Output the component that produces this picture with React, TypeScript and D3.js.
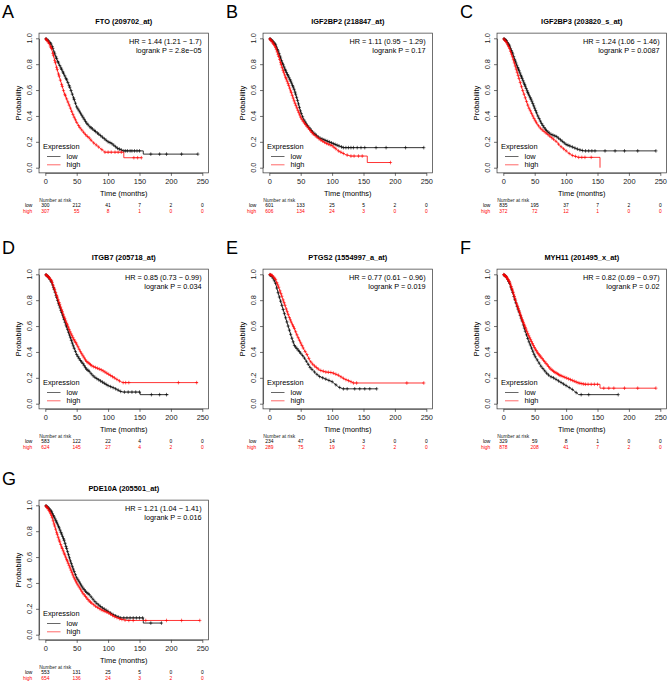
import React, { useEffect, useRef } from "react";
import * as d3 from "d3";

type Pt = [number, number];

const timeTicks = [0, 50, 100, 150, 200, 250];
const probTicks = [0, 0.2, 0.4, 0.6, 0.8, 1.0];
const riskTimes = [0, 50, 100, 150, 200, 250];

const letters = ["A", "B", "C", "D", "E", "F", "G"];
const titles = [
  "FTO (209702_at)",
  "IGF2BP2 (218847_at)",
  "IGF2BP3 (203820_s_at)",
  "ITGB7 (205718_at)",
  "PTGS2 (1554997_a_at)",
  "MYH11 (201495_x_at)",
  "PDE10A (205501_at)",
];
const hrTexts = [
  "HR = 1.44 (1.21 \u2212 1.7)",
  "HR = 1.11 (0.95 \u2212 1.29)",
  "HR = 1.24 (1.06 \u2212 1.46)",
  "HR = 0.85 (0.73 \u2212 0.99)",
  "HR = 0.77 (0.61 \u2212 0.96)",
  "HR = 0.82 (0.69 \u2212 0.97)",
  "HR = 1.21 (1.04 \u2212 1.41)",
];
const pTexts = [
  "logrank P = 2.8e\u221205",
  "logrank P = 0.17",
  "logrank P = 0.0087",
  "logrank P = 0.034",
  "logrank P = 0.019",
  "logrank P = 0.02",
  "logrank P = 0.016",
];

// survival curves, [months, probability]
const ftoLow: Pt[] = [[0,1],[5,0.98],[10,0.95],[15,0.88],[20,0.82],[25,0.77],[30,0.72],[35,0.67],[40,0.61],[45,0.54],[50,0.47],[55,0.43],[60,0.39],[65,0.35],[70,0.32],[75,0.30],[80,0.28],[85,0.26],[90,0.24],[95,0.22],[100,0.20],[105,0.19],[110,0.17],[115,0.15],[120,0.14],[124,0.13],[156,0.13],[156,0.105],[243,0.105]];
const ftoHigh: Pt[] = [[0,1],[5,0.97],[10,0.92],[15,0.83],[20,0.74],[25,0.66],[30,0.58],[35,0.52],[40,0.46],[45,0.40],[50,0.35],[55,0.31],[60,0.28],[65,0.25],[70,0.23],[75,0.20],[80,0.18],[85,0.16],[90,0.14],[95,0.12],[125,0.12],[125,0.077],[153,0.077]];
const igf2bp2Low: Pt[] = [[0,1],[5,0.98],[10,0.95],[15,0.89],[20,0.82],[25,0.76],[30,0.71],[35,0.66],[40,0.60],[45,0.52],[50,0.43],[55,0.37],[60,0.33],[65,0.30],[70,0.27],[75,0.25],[80,0.23],[90,0.21],[100,0.19],[110,0.17],[118,0.155],[246,0.155]];
const igf2bp2High: Pt[] = [[0,1],[5,0.97],[10,0.93],[15,0.86],[20,0.78],[25,0.71],[30,0.65],[35,0.58],[40,0.51],[45,0.45],[50,0.39],[55,0.35],[60,0.32],[65,0.29],[70,0.26],[75,0.24],[80,0.22],[90,0.19],[100,0.17],[110,0.13],[122,0.10],[130,0.09],[156,0.09],[156,0.04],[193,0.04]];
const igf2bp3Low: Pt[] = [[0,1],[5,0.98],[10,0.94],[15,0.88],[20,0.81],[25,0.75],[30,0.69],[35,0.63],[40,0.57],[45,0.52],[50,0.46],[55,0.40],[60,0.35],[65,0.31],[70,0.28],[75,0.26],[80,0.25],[85,0.24],[90,0.22],[95,0.20],[100,0.18],[110,0.16],[120,0.14],[128,0.13],[243,0.13]];
const igf2bp3High: Pt[] = [[0,1],[5,0.97],[10,0.92],[15,0.85],[20,0.77],[25,0.69],[30,0.61],[35,0.54],[40,0.47],[45,0.42],[50,0.37],[55,0.33],[60,0.30],[65,0.28],[70,0.26],[75,0.24],[80,0.22],[85,0.20],[90,0.17],[95,0.15],[100,0.13],[105,0.11],[110,0.095],[120,0.08],[154,0.08],[154,0]];
const itgb7Low: Pt[] = [[0,1],[5,0.98],[10,0.94],[15,0.87],[20,0.79],[25,0.72],[30,0.65],[35,0.58],[40,0.51],[45,0.44],[50,0.38],[55,0.34],[60,0.31],[65,0.27],[70,0.25],[75,0.22],[80,0.20],[90,0.17],[100,0.14],[110,0.12],[120,0.095],[124,0.09],[151,0.09],[151,0.07],[196,0.07]];
const itgb7High: Pt[] = [[0,1],[5,0.98],[10,0.95],[15,0.88],[20,0.81],[25,0.74],[30,0.67],[35,0.61],[40,0.55],[45,0.50],[50,0.46],[55,0.41],[60,0.37],[65,0.33],[70,0.31],[75,0.29],[80,0.28],[90,0.26],[100,0.23],[110,0.20],[120,0.17],[124,0.163],[243,0.163]];
const ptgs2Low: Pt[] = [[0,1],[5,0.98],[10,0.93],[15,0.84],[20,0.76],[25,0.68],[30,0.60],[35,0.52],[40,0.45],[45,0.42],[50,0.39],[55,0.36],[60,0.32],[65,0.28],[70,0.255],[75,0.23],[80,0.21],[90,0.19],[100,0.17],[110,0.13],[117,0.115],[171,0.115]];
const ptgs2High: Pt[] = [[0,1],[5,0.99],[10,0.96],[15,0.90],[20,0.83],[25,0.76],[30,0.69],[35,0.63],[40,0.58],[45,0.52],[50,0.47],[55,0.42],[60,0.38],[65,0.33],[70,0.30],[75,0.28],[80,0.26],[90,0.245],[100,0.24],[110,0.22],[120,0.19],[130,0.17],[134,0.16],[246,0.16]];
const myh11Low: Pt[] = [[0,1],[5,0.98],[10,0.93],[15,0.86],[20,0.78],[25,0.71],[30,0.64],[35,0.56],[40,0.49],[45,0.43],[50,0.37],[55,0.33],[60,0.29],[65,0.26],[70,0.23],[75,0.21],[80,0.20],[90,0.17],[100,0.14],[110,0.11],[120,0.07],[183,0.07]];
const myh11High: Pt[] = [[0,1],[5,0.98],[10,0.94],[15,0.87],[20,0.79],[25,0.72],[30,0.65],[35,0.59],[40,0.53],[45,0.48],[50,0.43],[55,0.39],[60,0.36],[65,0.33],[70,0.30],[75,0.27],[80,0.25],[90,0.22],[100,0.20],[110,0.18],[120,0.16],[130,0.15],[154,0.15],[154,0.12],[243,0.12]];
const pde10aLow: Pt[] = [[0,1],[5,0.98],[10,0.95],[15,0.90],[20,0.85],[25,0.79],[30,0.73],[35,0.65],[40,0.57],[45,0.50],[50,0.44],[55,0.40],[60,0.36],[65,0.33],[70,0.31],[75,0.28],[80,0.25],[90,0.21],[100,0.18],[110,0.15],[120,0.13],[156,0.13],[156,0.09],[185,0.09]];
const pde10aHigh: Pt[] = [[0,1],[5,0.97],[10,0.92],[15,0.84],[20,0.76],[25,0.69],[30,0.63],[35,0.57],[40,0.51],[45,0.45],[50,0.40],[55,0.36],[60,0.32],[65,0.29],[70,0.26],[75,0.24],[80,0.22],[90,0.19],[100,0.17],[110,0.14],[120,0.12],[130,0.11],[246,0.11]];

// censoring times (months)
const ftoLowCens = [1,2,4,5,7,8,9,11,12,14,15,17,18,20,21,23,25,26,28,29,31,33,34,36,38,39,41,43,45,46,48,50,52,54,56,58,60,62,64,66,68,71,73,75,78,80,83,85,88,91,94,97,100,103,106,109,112,115,118,121,125,128,131,135,138,142,146,150,168,182,193,217,243];
const ftoHighCens = [1,2,3,5,6,8,9,10,12,13,15,16,18,19,21,22,24,26,27,29,31,32,34,36,38,40,42,44,46,48,50,53,55,58,61,64,67,70,73,77,81,85,90,95,100,105,111,116,121,141,147,153];
const igf2bp2LowCens = [1,2,3.5,5,6,7.5,9,10,11.5,13,14,15.5,17,18,19.5,21,22,23.5,25,26,27.5,29,30,31.5,33,34,35.5,37,38,39.5,41,42,43.5,45,46.5,48,49.5,51,53,55,57,59,61,63,65,67,69,71,73,75,78,81,84,87,90,93,96,99,102,105,108,111,115,118,122,126,130,134,140,146,152,170,186,217,246];
const igf2bp2HighCens = [1,2,3,4.5,6,7,8.5,10,11,12.5,14,15,16.5,18,19,20.5,22,23,24.5,26,27,28.5,30,31,32.5,34,35,36.5,38,39.5,41,42.5,44,45.5,47,48.5,50,52,54,56,58,60,62,64,66,68,70,73,76,79,82,85,88,91,94,97,100,103,106,110,114,118,124,130,135,142,148,193];
const igf2bp3LowCens = [1,2,3,4,5,6.5,8,9,10,11.5,13,14,15,16.5,18,19,20,21.5,23,24,25,26.5,28,29,30,31.5,33,34,35,36.5,38,39,40,41.5,43,44,45.5,47,48.5,50,51.5,53,55,57,59,61,63,65,67,69,71,73,76,79,82,85,88,91,94,97,100,103,106,110,114,118,122,126,131,136,141,146,162,178,193,214,243];
const igf2bp3HighCens = [1,2.5,4,5.5,7,8.5,10,11.5,13,14.5,16,17.5,19,20.5,22,23.5,25,27,29,31,33,35,37,39,41,43,45,47,49,51,53,56,59,62,65,68,71,74,77,80,84,88,92,96,100,105,110,115,120,125,130,140];
const itgb7LowCens = [1,2,3.5,5,6,7.5,9,10,11.5,13,14,15.5,17,18,19.5,21,22,23.5,25,26,27.5,29,30,31.5,33,34,35.5,37,38.5,40,41.5,43,44.5,46,48,50,52,54,56,58,60,62,64,66,68,70,73,76,79,82,85,88,91,94,97,100,104,108,112,116,120,126,132,138,144,150,169,182,193];
const itgb7HighCens = [1,2,3,4.5,6,7,8.5,10,11,12.5,14,15,16.5,18,19,20.5,22,23,24.5,26,27,28.5,30,31,32.5,34,35,36.5,38,39.5,41,42.5,44,45.5,47,48.5,50,52,54,56,58,60,62,64,66,68,70,72,74,77,80,83,86,89,92,95,98,101,104,107,110,114,118,124,128,133,212,241];
const ptgs2LowCens = [1,2,4,6,8,10,12,14,16,18,20,22,24,26,28,30,32,34,36,38,40,42,44,46,48,50,53,56,59,62,65,68,72,76,80,85,90,95,100,106,112,118,124,136,144,152,160,171];
const ptgs2HighCens = [1,2,3.5,5,7,8.5,10,12,13.5,15,17,18.5,20,22,23.5,25,27,28.5,30,32,33.5,35,37,38.5,40,42,44,46,48,50,52,54,57,60,63,66,69,72,75,78,82,86,90,94,98,102,106,110,114,118,122,126,130,134,139,219,246];
const myh11LowCens = [1,2,3.5,5,7,8.5,10,12,13.5,15,17,18.5,20,22,23.5,25,27,28.5,30,32,33.5,35,37,39,41,43,45,47,49,51,54,57,60,63,66,69,72,76,80,84,88,92,96,100,105,110,116,124,136,183];
const myh11HighCens = [0.5,1.5,2.5,3.5,4.5,5.5,6.5,7.5,8.5,9.5,10.5,11.5,12.5,13.5,14.5,15.5,16.5,17.5,18.5,19.5,21,22,23,24,25,26,27,28,29,30,31,32,33,34,35,36,37.5,39,40.5,42,43.5,45,46.5,48,49.5,51,52.5,54,55.5,57,58.5,60,62,64,66,68,70,72,74,76,78,80,82,84,86,88,90,92,95,98,101,104,107,110,113,116,119,122,125,128,131,135,140,145,150,160,168,176,193,214,243];
const pde10aLowCens = [1,2,3.5,5,6,7.5,9,10,11.5,13,14,15.5,17,18,19.5,21,22,23.5,25,26,27.5,29,30,31.5,33,34,35.5,37,38.5,40,41.5,43,44.5,46,48,50,52,54,56,58,60,62,64,66,68,70,73,76,79,82,85,88,91,94,97,100,104,108,112,116,120,125,130,135,140,145,150,155,168,185];
const pde10aHighCens = [1,2,3,4.5,6,7,8.5,10,11,12.5,14,15,16.5,18,19,20.5,22,23,24.5,26,27,28.5,30,31,32.5,34,35,36.5,38,39.5,41,42.5,44,45.5,47,48.5,50,52,54,56,58,60,62,64,66,68,70,72,74,77,80,83,86,89,92,95,98,101,104,107,110,114,118,122,127,133,140,160,193,217,246];

// number at risk
const riskLow = [
  [300, 212, 41, 7, 2, 0],
  [601, 133, 25, 5, 2, 0],
  [835, 195, 37, 7, 2, 0],
  [583, 122, 22, 4, 0, 0],
  [234, 47, 14, 3, 0, 0],
  [329, 59, 8, 1, 0, 0],
  [553, 131, 25, 5, 0, 0],
];
const riskHigh = [
  [307, 55, 8, 1, 0, 0],
  [606, 134, 24, 3, 0, 0],
  [372, 72, 12, 1, 0, 0],
  [624, 145, 27, 4, 2, 0],
  [289, 75, 19, 2, 2, 0],
  [878, 208, 41, 7, 2, 0],
  [654, 136, 24, 3, 2, 0],
];

const lowCurves = [ftoLow, igf2bp2Low, igf2bp3Low, itgb7Low, ptgs2Low, myh11Low, pde10aLow];
const highCurves = [ftoHigh, igf2bp2High, igf2bp3High, itgb7High, ptgs2High, myh11High, pde10aHigh];
const lowCens = [ftoLowCens, igf2bp2LowCens, igf2bp3LowCens, itgb7LowCens, ptgs2LowCens, myh11LowCens, pde10aLowCens];
const highCens = [ftoHighCens, igf2bp2HighCens, igf2bp3HighCens, itgb7HighCens, ptgs2HighCens, myh11HighCens, pde10aHighCens];

const FONT = "'Liberation Sans', Arial, Helvetica, sans-serif";
const RED = "#ff0000";
const colX = [0, 224, 458];
const rowY = [0, 236, 467];

// value of the drawn curve at time t
function valueAt(curve: Pt[], t: number) {
  for (let i = 1; i < curve.length; i++) {
    const [t0, s0] = curve[i - 1];
    const [t1, s1] = curve[i];
    if (t <= t1) {
      if (t1 === t0) return s0;
      return s0 + ((s1 - s0) * (t - t0)) / (t1 - t0);
    }
  }
  return curve[curve.length - 1][1];
}

export default function App() {
  const ref = useRef<SVGSVGElement>(null);

  useEffect(() => {
    document.body.style.margin = "0";
    const svg = d3.select(ref.current);
    svg.selectAll("*").remove();

    titles.forEach((title, i) => {
      const ox = colX[i % 3];
      const oy = rowY[Math.floor(i / 3)];
      const g = svg.append("g").attr("font-family", FONT);

      const x = d3.scaleLinear().domain([0, 250]).range([ox + 45.3, ox + 202.3]);
      const y = d3.scaleLinear().domain([0, 1]).range([oy + 167.7, oy + 38.3]);

      g.append("text")
        .attr("x", ox + 2)
        .attr("y", oy + 18)
        .attr("font-size", 18)
        .text(letters[i]);

      g.append("text")
        .attr("x", (x(-10) + x(260)) / 2)
        .attr("y", oy + 24)
        .attr("text-anchor", "middle")
        .attr("font-size", 7.4)
        .attr("font-weight", "bold")
        .text(title);

      // box
      g.append("rect")
        .attr("x", x(-10))
        .attr("y", y(1.04))
        .attr("width", x(260) - x(-10))
        .attr("height", y(-0.04) - y(1.04))
        .attr("fill", "none")
        .attr("stroke", "#333")
        .attr("stroke-width", 0.7);

      // x axis
      const xa = g.append("g")
        .attr("transform", `translate(0,${y(-0.04)})`)
        .call(d3.axisBottom(x).tickValues(timeTicks).tickSize(3).tickSizeOuter(0).tickPadding(2.5));
      xa.selectAll("path, line").attr("stroke", "#333").attr("stroke-width", 0.7);
      xa.selectAll("text").attr("font-size", 7.4).attr("font-family", FONT).attr("fill", "#222");

      // y axis
      const ya = g.append("g")
        .attr("transform", `translate(${x(-10)},0)`)
        .call(d3.axisLeft(y).tickValues(probTicks).tickSize(3).tickSizeOuter(0).tickFormat(() => ""));
      ya.selectAll("path, line").attr("stroke", "#333").attr("stroke-width", 0.7);
      probTicks.forEach((v) => {
        g.append("text")
          .attr("transform", `translate(${ox + 31.5},${y(v)}) rotate(-90)`)
          .attr("text-anchor", "middle")
          .attr("font-size", 7.4)
          .attr("fill", "#222")
          .text(d3.format(".1f")(v));
      });

      g.append("text")
        .attr("transform", `translate(${ox + 20.5},${(y(1.04) + y(-0.04)) / 2}) rotate(-90)`)
        .attr("text-anchor", "middle")
        .attr("font-size", 7.4)
        .text("Probability");

      g.append("text")
        .attr("x", (x(-10) + x(260)) / 2)
        .attr("y", oy + 195.5)
        .attr("text-anchor", "middle")
        .attr("font-size", 7.4)
        .text("Time (months)");

      // HR and p
      g.append("text")
        .attr("x", x(260) - 7)
        .attr("y", oy + 44)
        .attr("text-anchor", "end")
        .attr("font-size", 7.3)
        .text(hrTexts[i]);
      g.append("text")
        .attr("x", x(260) - 7)
        .attr("y", oy + 53)
        .attr("text-anchor", "end")
        .attr("font-size", 7.3)
        .text(pTexts[i]);

      // curves
      const line = d3.line<Pt>().x((d) => x(d[0])).y((d) => y(d[1]));
      const series = [
        { curve: lowCurves[i], cens: lowCens[i], color: "#000" },
        { curve: highCurves[i], cens: highCens[i], color: RED },
      ];
      series.forEach((s) => {
        g.append("path")
          .attr("d", line(s.curve))
          .attr("fill", "none")
          .attr("stroke", s.color)
          .attr("stroke-width", 0.8);
        const last = s.curve[s.curve.length - 1][0];
        g.append("g")
          .selectAll("path")
          .data(s.cens.filter((t) => t <= last))
          .join("path")
          .attr("d", (t) => {
            const cx = x(t);
            const cy = y(valueAt(s.curve, t));
            return `M${cx - 1.6},${cy}h3.2M${cx},${cy - 1.8}v3.6`;
          })
          .attr("stroke", s.color)
          .attr("stroke-width", 0.6);
      });

      // legend
      g.append("text")
        .attr("x", ox + 43)
        .attr("y", oy + 149.3)
        .attr("font-size", 7.4)
        .text("Expression");
      [["low", "#000", 156.5], ["high", RED, 164.8]].forEach(([lab, col, ly]) => {
        g.append("line")
          .attr("x1", ox + 47)
          .attr("x2", ox + 60.5)
          .attr("y1", oy + (ly as number))
          .attr("y2", oy + (ly as number))
          .attr("stroke", col as string)
          .attr("stroke-width", 0.6);
        g.append("text")
          .attr("x", ox + 66.5)
          .attr("y", oy + (ly as number) + 2.6)
          .attr("font-size", 7.4)
          .text(lab as string);
      });

      // number at risk
      g.append("text")
        .attr("x", ox + 39.3)
        .attr("y", oy + 201.8)
        .attr("font-size", 4.9)
        .attr("fill", "#222")
        .text("Number at risk");
      [["low", "#000", riskLow[i], 207.2], ["high", RED, riskHigh[i], 212.6]].forEach(([lab, col, vals, ry]) => {
        g.append("text")
          .attr("x", ox + 32.3)
          .attr("y", oy + (ry as number))
          .attr("text-anchor", "end")
          .attr("font-size", 4.9)
          .attr("fill", col as string)
          .text(lab as string);
        (vals as number[]).forEach((v, k) => {
          g.append("text")
            .attr("x", x(riskTimes[k]))
            .attr("y", oy + (ry as number))
            .attr("text-anchor", "middle")
            .attr("font-size", 4.9)
            .attr("fill", col as string)
            .text(v);
        });
      });
    });
  }, []);

  return (
    <svg
      ref={ref}
      width={669}
      height={683}
      style={{ position: "absolute", left: 0, top: 0, background: "#fff" }}
    />
  );
}
